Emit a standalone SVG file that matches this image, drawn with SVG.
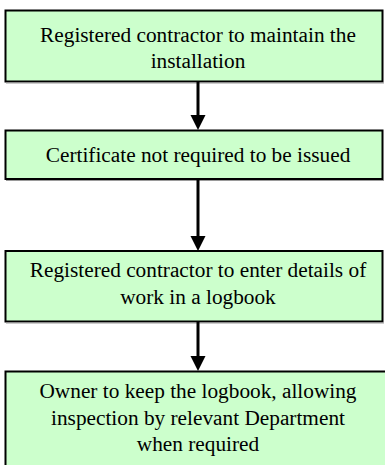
<svg xmlns="http://www.w3.org/2000/svg" width="385" height="465" viewBox="0 0 385 465">
  <style>
    .box { fill: #ccffcc; stroke: #000; stroke-width: 2; }
    .shadow { fill: none; stroke: #9a9a9a; stroke-width: 1; }
    .label { font-family: "Liberation Serif", "Times New Roman", serif; font-size: 21.3px; fill: #000; text-anchor: middle; }
    .link { stroke: #000; stroke-width: 3; fill: none; }
    .head { fill: #000; }
  </style>
  <rect width="385" height="465" fill="#fff"/>

  <g id="node-maintain">
    <rect class="box" x="5.5" y="10.5" width="377" height="71"/>
    <line class="shadow" x1="6" y1="83" x2="384" y2="83"/>
    <text class="label" x="198" y="42">Registered contractor to maintain the</text>
    <text class="label" x="198" y="68">installation</text>
  </g>

  <g id="node-certificate">
    <rect class="box" x="5.5" y="130.5" width="377" height="48.5"/>
    <line class="shadow" x1="6" y1="180.5" x2="384" y2="180.5"/>
    <text class="label" x="198" y="161.7">Certificate not required to be issued</text>
  </g>

  <g id="node-logbook-entry">
    <rect class="box" x="5.5" y="251" width="377" height="70.5"/>
    <line class="shadow" x1="6" y1="323" x2="384" y2="323"/>
    <text class="label" x="198" y="277">Registered contractor to enter details of</text>
    <text class="label" x="198" y="304">work in a logbook</text>
  </g>

  <g id="node-owner">
    <rect class="box" x="5.5" y="371.5" width="390" height="110"/>
    <text class="label" x="198" y="398">Owner to keep the logbook, allowing</text>
    <text class="label" x="198" y="424.5">inspection by relevant Department</text>
    <text class="label" x="198" y="451">when required</text>
  </g>

  <g id="connectors">
    <line class="link" x1="198" y1="82" x2="198" y2="116"/>
    <polygon class="head" points="190.5,115 205.5,115 198,130"/>
    <line class="link" x1="198" y1="179" x2="198" y2="237"/>
    <polygon class="head" points="190.5,236 205.5,236 198,251"/>
    <line class="link" x1="198" y1="322" x2="198" y2="357"/>
    <polygon class="head" points="190.5,356 205.5,356 198,371"/>
  </g>
</svg>
